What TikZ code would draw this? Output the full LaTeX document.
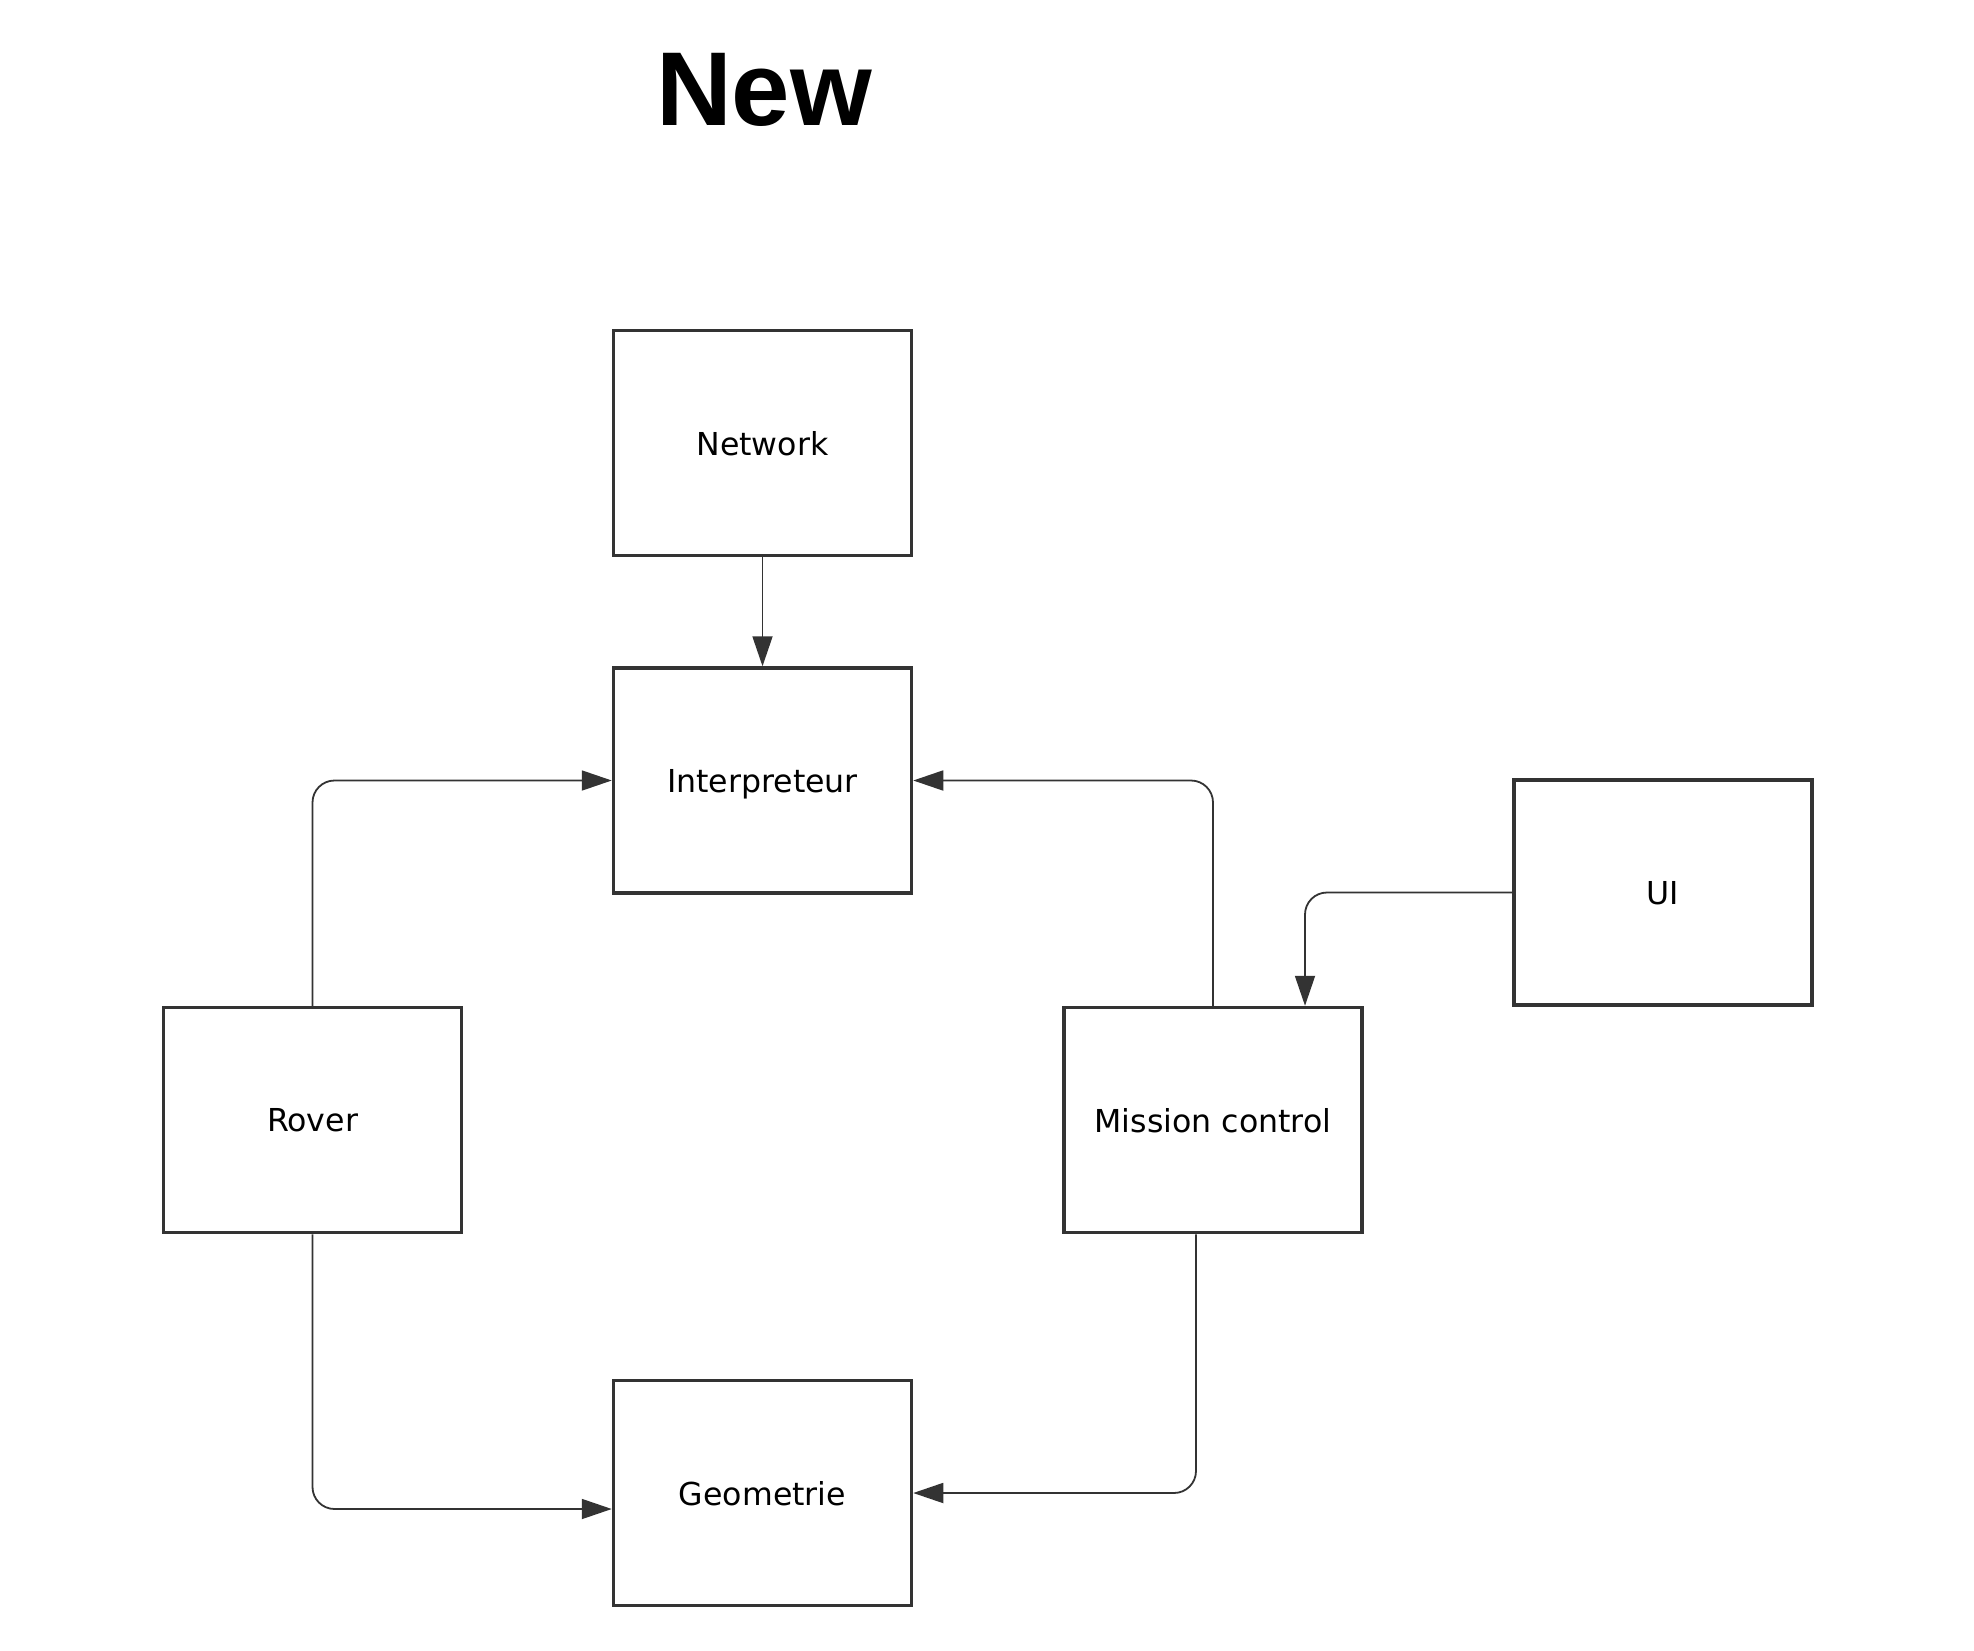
\documentclass[tikz,border=0pt]{standalone}
\usepackage{fontspec}
\setmainfont{DejaVu Sans}
\newfontfamily\titlefont{Liberation Sans}
\usetikzlibrary{arrows.meta,calc}
\definecolor{ink}{HTML}{333333}
\begin{document}
\begin{tikzpicture}[x=1pt,y=-1pt,
  box/.style={draw=ink,line width=3.5pt,minimum width=298pt,minimum height=225pt,inner sep=0pt,
    text depth=0pt,font=\fontsize{31.6}{38}\selectfont,text=black},
  conn/.style={draw=ink,line width=1.8pt,rounded corners=22pt,-{Triangle[length=30pt,width=20pt]}}]
\useasboundingbox[fill=white] (0,0) rectangle (1974,1651);
\node[anchor=base,font=\titlefont\bfseries\fontsize{105}{115}\selectfont] (title) at (764,126) {New};
\node[box] (net) at (762.5,443) {Network};
\node[box] (int) at (762.5,780.5) {Interpreteur};
\node[box] (ui) at (1663,892.5) {UI};
\node[box] (rov) at (312.5,1120) {Rover};
\node[box] (mis) at (1213,1120) {Mission control};
\node[box] (geo) at (762.5,1493) {Geometrie};
\coordinate (misin) at ([xshift=92pt]mis.north);
\coordinate (misout) at ([xshift=-17pt]mis.south);
\coordinate (geoin) at ([yshift=-16pt]geo.west);
\draw[conn] (net.south) -- (int.north);
\draw[conn] (rov.north) |- (int.west);
\draw[conn] (mis.north) |- (int.east);
\draw[conn] (ui.west) -| (misin);
\draw[conn] (rov.south) |- (geoin);
\draw[conn] (misout) |- (geo.east);
\end{tikzpicture}
\end{document}
